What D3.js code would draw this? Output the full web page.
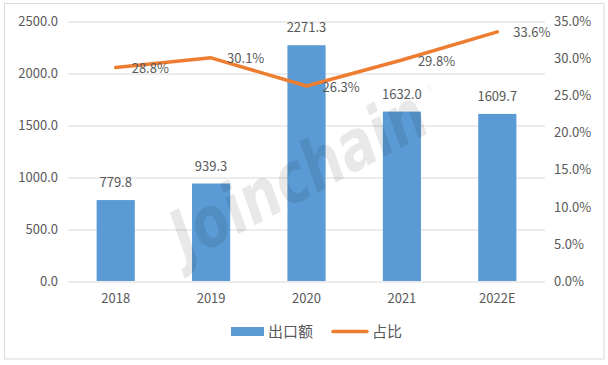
<!DOCTYPE html>
<html>
<head>
<meta charset="utf-8">
<script src="https://cdn.jsdelivr.net/npm/d3@7"></script>
<style>
  html, body { margin: 0; padding: 0; background: #fff; }
  svg text { font-family: "Noto Sans CJK SC", "DejaVu Sans", sans-serif; }
</style>
</head>
<body>
<div id="chart"></div>
<script>
// chart data
const years = ["2018", "2019", "2020", "2021", "2022E"];
const exportValues = [779.8, 939.3, 2271.3, 1632.0, 1609.7];
const shareValues = [28.8, 30.1, 26.3, 29.8, 33.6];
const leftTicks = [0, 500, 1000, 1500, 2000, 2500];
const rightTicks = [0, 5, 10, 15, 20, 25, 30, 35];
const legendNames = ["出口额", "占比"];

const W = 608, H = 365;
const margin = {top: 21.5, right: 63, bottom: 84, left: 68};
const width = W - margin.left - margin.right;
const height = H - margin.top - margin.bottom;

const blue = "#5b9bd5", orange = "#ed7d31", txt = "#595959", grid = "#d9d9d9";

const svgRoot = d3.select("#chart").append("svg")
    .attr("width", W).attr("height", H);

// outer border
svgRoot.append("rect")
    .attr("x", 4.5).attr("y", 3.5)
    .attr("width", 599.5).attr("height", 355.5)
    .attr("fill", "#fff").attr("stroke", grid).attr("stroke-width", 1);

const svg = svgRoot.append("g")
    .attr("transform", `translate(${margin.left},${margin.top})`);

const x = d3.scaleBand().domain(years).range([0, width]).paddingInner(0.6).paddingOuter(0.3);
const xc = d => x(d) + x.bandwidth() / 2;
const y = d3.scaleLinear().domain([0, 2500]).range([height, 0]);
const y2 = d3.scaleLinear().domain([0, 35]).range([height, 0]);

// gridlines
svg.append("g").selectAll("line")
    .data(leftTicks).enter().append("line")
    .attr("x1", 0).attr("x2", width)
    .attr("y1", d => Math.round(y(d)) + 0.5).attr("y2", d => Math.round(y(d)) + 0.5)
    .attr("stroke", grid).attr("stroke-width", 1);

// left axis
const yAxis = d3.axisLeft(y).tickValues(leftTicks).tickSize(0).tickPadding(10)
    .tickFormat(d => d.toFixed(1));
svg.append("g").call(yAxis)
    .call(g => g.select(".domain").remove())
    .call(g => g.selectAll("text").attr("fill", txt).style("font-size", "13px")
        .style("font-family", "'Noto Sans CJK SC', sans-serif"));

// right axis
const yAxis2 = d3.axisRight(y2).tickValues(rightTicks).tickSize(0).tickPadding(9)
    .tickFormat(d => d.toFixed(1) + "%");
svg.append("g").attr("transform", `translate(${width},0)`).call(yAxis2)
    .call(g => g.select(".domain").remove())
    .call(g => g.selectAll("text").attr("fill", txt).style("font-size", "13px")
        .style("font-family", "'Noto Sans CJK SC', sans-serif"));

// bottom axis
const xAxis = d3.axisBottom(x).tickSize(0).tickPadding(13);
svg.append("g").attr("transform", `translate(0,${height})`).call(xAxis)
    .call(g => g.select(".domain").remove())
    .call(g => g.selectAll("text").attr("fill", txt).style("font-size", "13px")
        .style("font-family", "'Noto Sans CJK SC', sans-serif"));

// bars
svg.append("g").selectAll("rect")
    .data(exportValues).enter().append("rect")
    .attr("x", (d, i) => x(years[i]))
    .attr("y", d => y(d))
    .attr("width", x.bandwidth())
    .attr("height", d => height - y(d))
    .attr("fill", blue);

// bar value labels
svg.append("g").selectAll("text")
    .data(exportValues).enter().append("text")
    .attr("x", (d, i) => xc(years[i]))
    .attr("y", d => y(d) - 13)
    .attr("text-anchor", "middle")
    .attr("fill", txt).style("font-size", "13px")
    .text(d => d.toFixed(1));

// share line
const line = d3.line()
    .x((d, i) => xc(years[i]))
    .y(d => y2(d));
svg.append("path")
    .datum(shareValues)
    .attr("d", line)
    .attr("fill", "none").attr("stroke", orange)
    .attr("stroke-width", 3.5)
    .attr("stroke-linecap", "round").attr("stroke-linejoin", "round");

// share labels
svg.append("g").selectAll("text")
    .data(shareValues).enter().append("text")
    .attr("x", (d, i) => xc(years[i]) + 16)
    .attr("y", d => y2(d) + 5.5)
    .attr("fill", txt).style("font-size", "13px")
    .text(d => d.toFixed(1) + "%");

// legend
const lg = svgRoot.append("g");
lg.append("rect").attr("x", 231).attr("y", 327).attr("width", 33).attr("height", 9).attr("fill", blue);
lg.append("text").attr("x", 268).attr("y", 336.5).attr("fill", txt).style("font-size", "15px").text(legendNames[0]);
lg.append("line").attr("x1", 333).attr("x2", 367).attr("y1", 331.5).attr("y2", 331.5)
    .attr("stroke", orange).attr("stroke-width", 3.5).attr("stroke-linecap", "round");
lg.append("text").attr("x", 372).attr("y", 336.5).attr("fill", txt).style("font-size", "15px").text(legendNames[1]);

// watermark
svgRoot.append("text")
    .attr("transform", "translate(186,262) rotate(-28)")
    .attr("fill", "#000").attr("fill-opacity", 0.09)
    .style("font-family", "'DejaVu Sans', sans-serif")
    .style("font-size", "70px").style("font-weight", "bold").style("font-style", "italic")
    .attr("textLength", 280).attr("lengthAdjust", "spacingAndGlyphs")
    .text("Joinchain");
svgRoot.append("text")
    .attr("transform", "translate(431,97) rotate(-28)")
    .attr("fill", "#000").attr("fill-opacity", 0.09)
    .style("font-size", "14px")
    .text("®");
</script>
</body>
</html>
